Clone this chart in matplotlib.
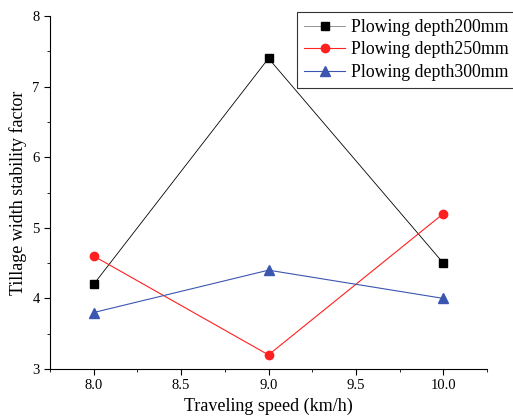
import matplotlib
matplotlib.use("Agg")
import matplotlib.pyplot as plt
from matplotlib.ticker import MultipleLocator

speed = [8.0, 9.0, 10.0]
depth200 = [4.2, 7.4, 4.5]
depth250 = [4.6, 3.2, 5.2]
depth300 = [3.8, 4.4, 4.0]
labels = ["Plowing depth200mm", "Plowing depth250mm", "Plowing depth300mm"]

plt.rcParams["font.family"] = ["Liberation Serif", "DejaVu Serif"]

fig = plt.figure(figsize=(5.13, 4.18), dpi=100)
ax = fig.add_axes([50 / 513, 49 / 418, 437 / 513, 353 / 418])

ax.plot(speed, depth200, "-s", color="black", lw=0.6, ms=6, label=labels[0])
ax.plot(speed, depth250, "-o", color="#FF2020", lw=0.8, ms=6, label=labels[1])
ax.plot(speed, depth300, "-^", color="#3B56B0", lw=0.8, ms=6.5, label=labels[2])

ax.set_xlim(7.75, 10.25)
ax.set_ylim(3, 8)
ax.xaxis.set_major_locator(MultipleLocator(0.5))
ax.xaxis.set_minor_locator(MultipleLocator(0.25))
ax.yaxis.set_major_locator(MultipleLocator(1))
ax.yaxis.set_minor_locator(MultipleLocator(0.5))
ax.xaxis.set_major_formatter(matplotlib.ticker.FormatStrFormatter("%.1f"))
ax.tick_params(which="both", direction="out", labelsize=10.5)
ax.tick_params(which="major", length=4)
ax.tick_params(which="minor", length=2.5)
ax.spines["top"].set_visible(False)
ax.spines["right"].set_visible(False)

ax.set_xlabel("Traveling speed (km/h)", fontsize=13, labelpad=4)
ax.set_ylabel("Tillage width stability factor", fontsize=13)

leg = ax.legend(loc="upper left", bbox_to_anchor=(297 / 513, 1 - 12 / 418),
                bbox_transform=fig.transFigure, fontsize=12.8, frameon=True,
                fancybox=False, edgecolor="black", borderpad=0.4,
                labelspacing=0.3, handlelength=2.3, handletextpad=0.35,
                borderaxespad=0)
leg.get_frame().set_linewidth(0.8)
leg.get_lines()[0].set_color("gray")
leg.get_lines()[0].set_markerfacecolor("black")
leg.get_lines()[0].set_markeredgecolor("black")

fig.savefig("out.png", dpi=100)
